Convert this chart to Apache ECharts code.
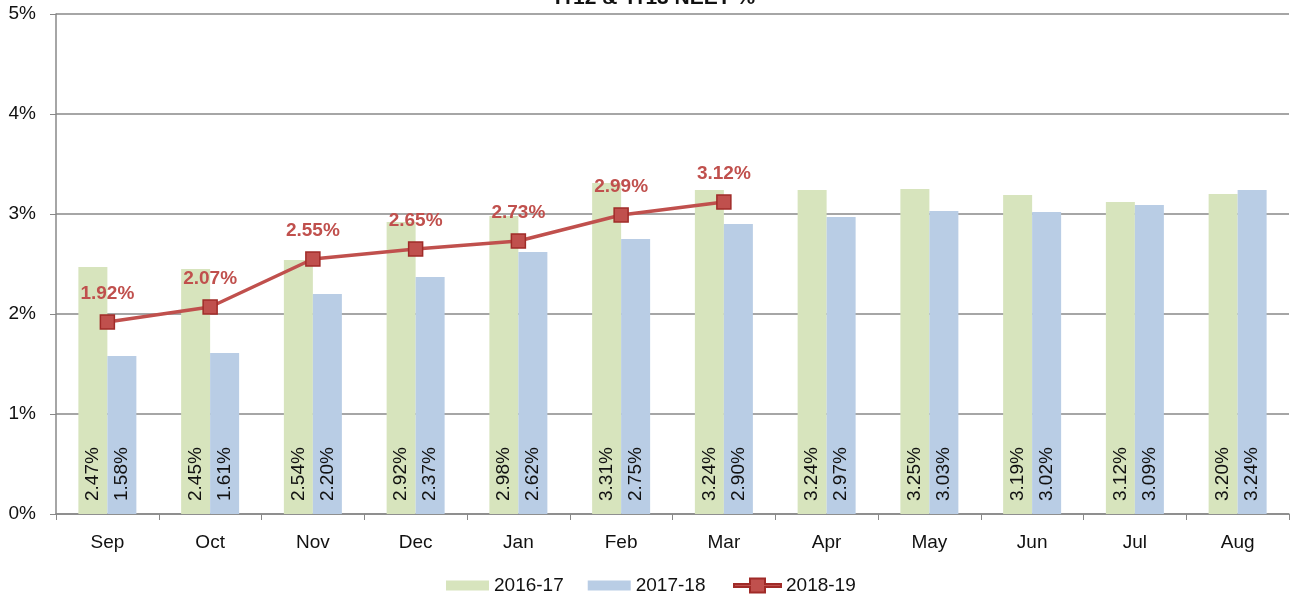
<!DOCTYPE html>
<html>
<head>
<meta charset="utf-8">
<script src="https://cdn.jsdelivr.net/npm/echarts@6/dist/echarts.min.js"></script>
<style>
  html, body { margin: 0; padding: 0; background: #fff; }
  #chart { width: 1291px; height: 600px; }
</style>
</head>
<body>
<div id="chart"></div>
<script>
const months = ["Sep", "Oct", "Nov", "Dec", "Jan", "Feb", "Mar", "Apr", "May", "Jun", "Jul", "Aug"];
const y1617 = [2.47, 2.45, 2.54, 2.92, 2.98, 3.31, 3.24, 3.24, 3.25, 3.19, 3.12, 3.20];
const y1718 = [1.58, 1.61, 2.20, 2.37, 2.62, 2.75, 2.90, 2.97, 3.03, 3.02, 3.09, 3.24];
const y1819 = [1.92, 2.07, 2.55, 2.65, 2.73, 2.99, 3.12];

const font = "Liberation Sans";
const myChart = echarts.init(document.getElementById("chart"));

const barLabel = {
  show: true,
  position: "insideBottom",
  rotate: 90,
  align: "left",
  verticalAlign: "middle",
  distance: 13,
  color: "#111",
  fontSize: 19,
  fontFamily: font,
  formatter: (p) => p.value.toFixed(2) + "%",
};

// line + square legend icon
const lineIcon = "path://M0,5.5 H16 V0 H31 V5.5 H47 V8.5 H31 V14 H16 V8.5 H0 Z";

const option = {
  animation: false,
  textStyle: { fontFamily: font },
  title: {
    text: "Yr12 & Yr13 NEET %",
    left: 648,
    textAlign: "center",
    top: -17,
    textStyle: { fontSize: 21, fontWeight: "bold", color: "#111", fontFamily: font },
  },
  legend: [
    {
      left: 441,
      top: 571,
      itemGap: 24,
      itemWidth: 43,
      itemHeight: 10,
      textStyle: { fontSize: 19, color: "#111", fontFamily: font },
      data: [
        { name: "2016-17", icon: "rect" },
        { name: "2017-18", icon: "rect" },
      ],
    },
    {
      left: 728,
      top: 571,
      itemWidth: 47,
      itemHeight: 14,
      textStyle: { fontSize: 19, color: "#111", fontFamily: font },
      data: [{ name: "2018-19", icon: lineIcon }],
    },
  ],
  grid: { left: 56, right: 2, top: 14, bottom: 86 },
  xAxis: {
    type: "category",
    data: months,
    axisLine: { lineStyle: { color: "#888", width: 1.5 } },
    axisTick: { show: true, length: 6, alignWithLabel: false, lineStyle: { color: "#888" } },
    axisLabel: { fontSize: 19, color: "#111", margin: 19, fontFamily: font },
  },
  yAxis: {
    type: "value",
    min: 0,
    max: 5,
    interval: 1,
    axisLine: { show: true, lineStyle: { color: "#888", width: 1.5 } },
    axisTick: { show: true, length: 6, lineStyle: { color: "#888" } },
    splitLine: { lineStyle: { color: "#888", width: 1.5 } },
    axisLabel: { fontSize: 19, color: "#111", margin: 20, formatter: "{value}%", fontFamily: font },
  },
  series: [
    {
      name: "2016-17",
      type: "bar",
      data: y1617,
      barWidth: 29,
      barGap: "0%",
      itemStyle: { color: "#D7E4BD" },
      label: barLabel,
    },
    {
      name: "2017-18",
      type: "bar",
      data: y1718,
      barWidth: 29,
      barGap: "0%",
      itemStyle: { color: "#B9CDE5" },
      label: barLabel,
    },
    {
      name: "2018-19",
      type: "line",
      data: y1819,
      z: 5,
      symbol: "rect",
      symbolSize: 14,
      lineStyle: { color: "#C0504D", width: 3.5 },
      itemStyle: { color: "#C0504D", borderColor: "#A02B28", borderWidth: 1.5 },
      label: {
        show: true,
        position: "top",
        distance: 11,
        color: "#C0504D",
        fontSize: 19,
        fontWeight: "bold",
        fontFamily: font,
        formatter: (p) => p.value.toFixed(2) + "%",
      },
    },
  ],
};
myChart.setOption(option);
</script>
</body>
</html>
